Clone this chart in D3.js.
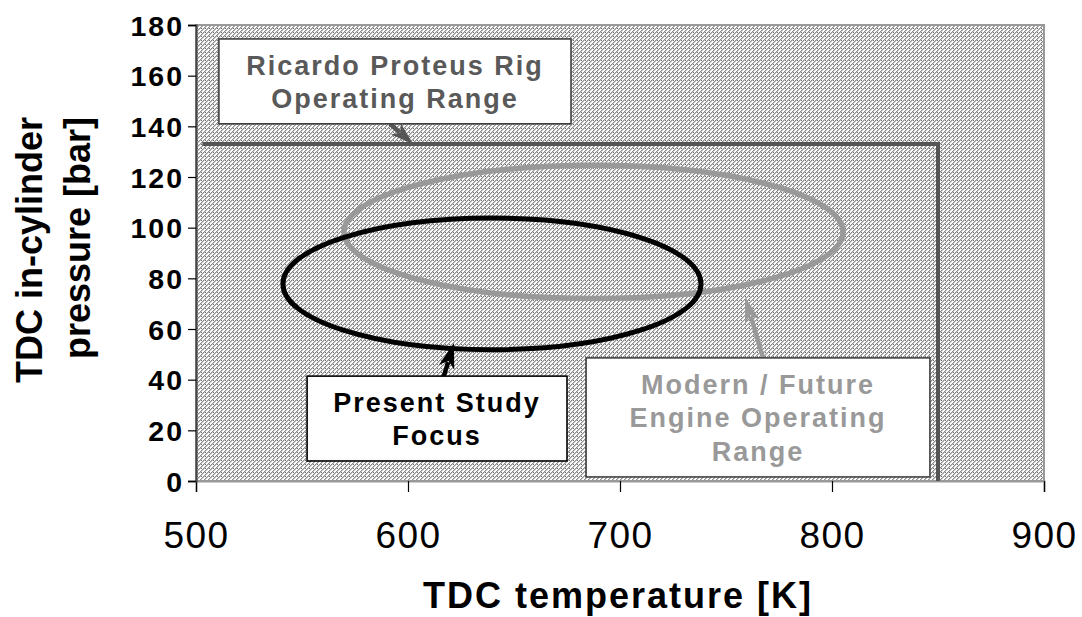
<!DOCTYPE html>
<html><head><meta charset="utf-8">
<script src="https://cdn.jsdelivr.net/npm/d3@7"></script>
<style>body{margin:0;background:#fff}svg{display:block;font-family:Arial,"Liberation Sans",sans-serif}</style>
</head><body><svg id="c" width="1082" height="617"></svg>
<script>
// ---- data (temperature K, pressure bar) ----
const xTicks = [500, 600, 700, 800, 900];
const yTicks = [0, 20, 40, 60, 80, 100, 120, 140, 160, 180];
const ricardoLine = [[503, 133], [850, 133], [850, 0]];
const modernEllipse = [687.5, 98.3, 117.7, 26.3];   // centre T, centre p, half-width T, half-height p
const studyEllipse  = [639.6, 77.8, 98.6, 26.0];
const ricardoLabel = ["Ricardo Proteus Rig", "Operating Range"];
const studyLabel   = ["Present Study", "Focus"];
const modernLabel  = ["Modern / Future", "Engine Operating", "Range"];
const ricardoBox = [510.8, 676.9, 174.5, 141];
const studyBox   = [552.4, 675.0, 41.4, 7.9];
const modernBox  = [684.0, 846.2, 48.6, 1.6];
const ricardoArrow = [[591.5, 141], [602.4, 133]];
const studyArrow   = [[616.5, 40.3], [621.7, 54.5]];
const modernArrow  = [[767.5, 48.6], [759.0, 72.6]];
const xTitle = "TDC temperature [K]";
const yTitle = ["TDC in-cylinder", "pressure [bar]"];

const svg = d3.select("#c");
const x = d3.scaleLinear().domain([500, 900]).range([196, 1044]);
const y = d3.scaleLinear().domain([0, 180]).range([481, 25]);

// hatch pattern
const defs = svg.append("defs");
const pat = defs.append("pattern").attr("id", "hatch").attr("patternUnits", "userSpaceOnUse")
  .attr("width", 4).attr("height", 4);
pat.append("rect").attr("width", 4).attr("height", 4).attr("fill", "#ffffff");
[[3,0],[2,1],[1,2],[0,3]].forEach(([a,b]) => pat.append("rect").attr("x", a).attr("y", b).attr("width", 1).attr("height", 1).attr("fill", "#8f8f8f"));
[[0,0],[3,1],[2,2],[1,3]].forEach(([a,b]) => pat.append("rect").attr("x", a).attr("y", b).attr("width", 1).attr("height", 1).attr("fill", "#c0c0c0"));
pat.append("rect").attr("x", 1).attr("y", 0).attr("width", 1).attr("height", 1).attr("fill", "#6a6a6a");

// plot area
svg.append("rect").attr("x", x(500)).attr("y", y(180)).attr("width", x(900) - x(500)).attr("height", y(0) - y(180))
  .attr("fill", "url(#hatch)").attr("stroke", "#999").attr("stroke-width", 2);

// axes
const gx = svg.append("g").attr("transform", `translate(0,${y(0)})`)
  .call(d3.axisBottom(x).tickValues(xTicks).tickSize(11).tickPadding(30).tickFormat(d3.format("d")));
gx.select(".domain").attr("stroke", "#999").attr("stroke-width", 2);
gx.selectAll(".tick line").attr("stroke", "#000").attr("stroke-width", 1.2);
gx.selectAll(".tick text").attr("font-size", 37).attr("font-family", "Arial, Liberation Sans").attr("fill", "#000").attr("letter-spacing", 1.5);

const gy = svg.append("g").attr("transform", `translate(${x(500)},0)`)
  .call(d3.axisLeft(y).tickValues(yTicks).tickSize(8).tickPadding(4).tickFormat(d3.format("d")));
gy.select(".domain").attr("stroke", "#444").attr("stroke-width", 2);
gy.selectAll(".tick line").attr("stroke", "#000").attr("stroke-width", 1.2);
gy.selectAll(".tick text").attr("font-size", 28.5).attr("font-weight", "bold").attr("font-family", "Arial, Liberation Sans").attr("fill", "#000").attr("letter-spacing", 2).attr("dy", "0.36em");

// ricardo range line
svg.append("path").attr("d", d3.line().x(d => x(d[0])).y(d => y(d[1]))(ricardoLine))
  .attr("fill", "none").attr("stroke", "#555").attr("stroke-width", 4);

// ellipses
function ell(e, color, w) {
  svg.append("ellipse").attr("cx", x(e[0])).attr("cy", y(e[1]))
    .attr("rx", x(e[0] + e[2]) - x(e[0])).attr("ry", y(e[1] - e[3]) - y(e[1]))
    .attr("fill", "none").attr("stroke", color).attr("stroke-width", w);
}
ell(modernEllipse, "#999", 5.5);
ell(studyEllipse, "#000", 5);

// arrows
function arrow(a, color, w, hl, hw) {
  const x0 = x(a[0][0]), y0 = y(a[0][1]), x1 = x(a[1][0]), y1 = y(a[1][1]);
  const dx = x1 - x0, dy = y1 - y0, L = Math.hypot(dx, dy), ux = dx / L, uy = dy / L;
  const bx = x1 - ux * hl, by = y1 - uy * hl;
  svg.append("line").attr("x1", x0).attr("y1", y0).attr("x2", bx + ux * 2).attr("y2", by + uy * 2)
    .attr("stroke", color).attr("stroke-width", w);
  svg.append("path").attr("d", `M${x1},${y1}L${bx - uy * hw / 2 - ux * hl * 0.15},${by + ux * hw / 2 - uy * hl * 0.15}L${bx + ux * 3},${by + uy * 3}L${bx + uy * hw / 2 - ux * hl * 0.15},${by - ux * hw / 2 - uy * hl * 0.15}Z`)
    .attr("fill", color);
}
arrow(ricardoArrow, "#555", 4.5, 20, 15);
arrow(studyArrow, "#000", 4.5, 22, 16);
arrow(modernArrow, "#999", 4.5, 22, 15);

// labelled boxes
function box(b, lines, color, border, baseline0, lh) {
  const x0 = x(b[0]), x1 = x(b[1]), y0 = y(b[2]), y1 = y(b[3]);
  svg.append("rect").attr("x", x0).attr("y", y0).attr("width", x1 - x0).attr("height", y1 - y0)
    .attr("fill", "#fff").attr("stroke", border).attr("stroke-width", 1.6);
  svg.append("g").selectAll("text").data(lines).join("text")
    .attr("x", (x0 + x1) / 2).attr("y", (d, i) => y0 + baseline0 + i * lh)
    .attr("text-anchor", "middle").attr("font-size", 27).attr("font-weight", "bold")
    .attr("letter-spacing", 2).attr("fill", color).text(d => d);
}
box(ricardoBox, ricardoLabel, "#595959", "#404040", 36, 33);
box(studyBox, studyLabel, "#000", "#000", 36, 33);
box(modernBox, modernLabel, "#999", "#404040", 36, 33.5);

// titles
svg.append("text").attr("x", 618).attr("y", 608).attr("text-anchor", "middle")
  .attr("font-size", 36).attr("font-weight", "bold").attr("letter-spacing", 2).text(xTitle);
svg.append("text").attr("transform", "translate(42,250) rotate(-90)").attr("text-anchor", "middle")
  .attr("font-size", 36).attr("font-weight", "bold").text(yTitle[0]);
svg.append("text").attr("transform", "translate(90,238) rotate(-90)").attr("text-anchor", "middle")
  .attr("font-size", 36).attr("font-weight", "bold").text(yTitle[1]);
</script></body></html>
